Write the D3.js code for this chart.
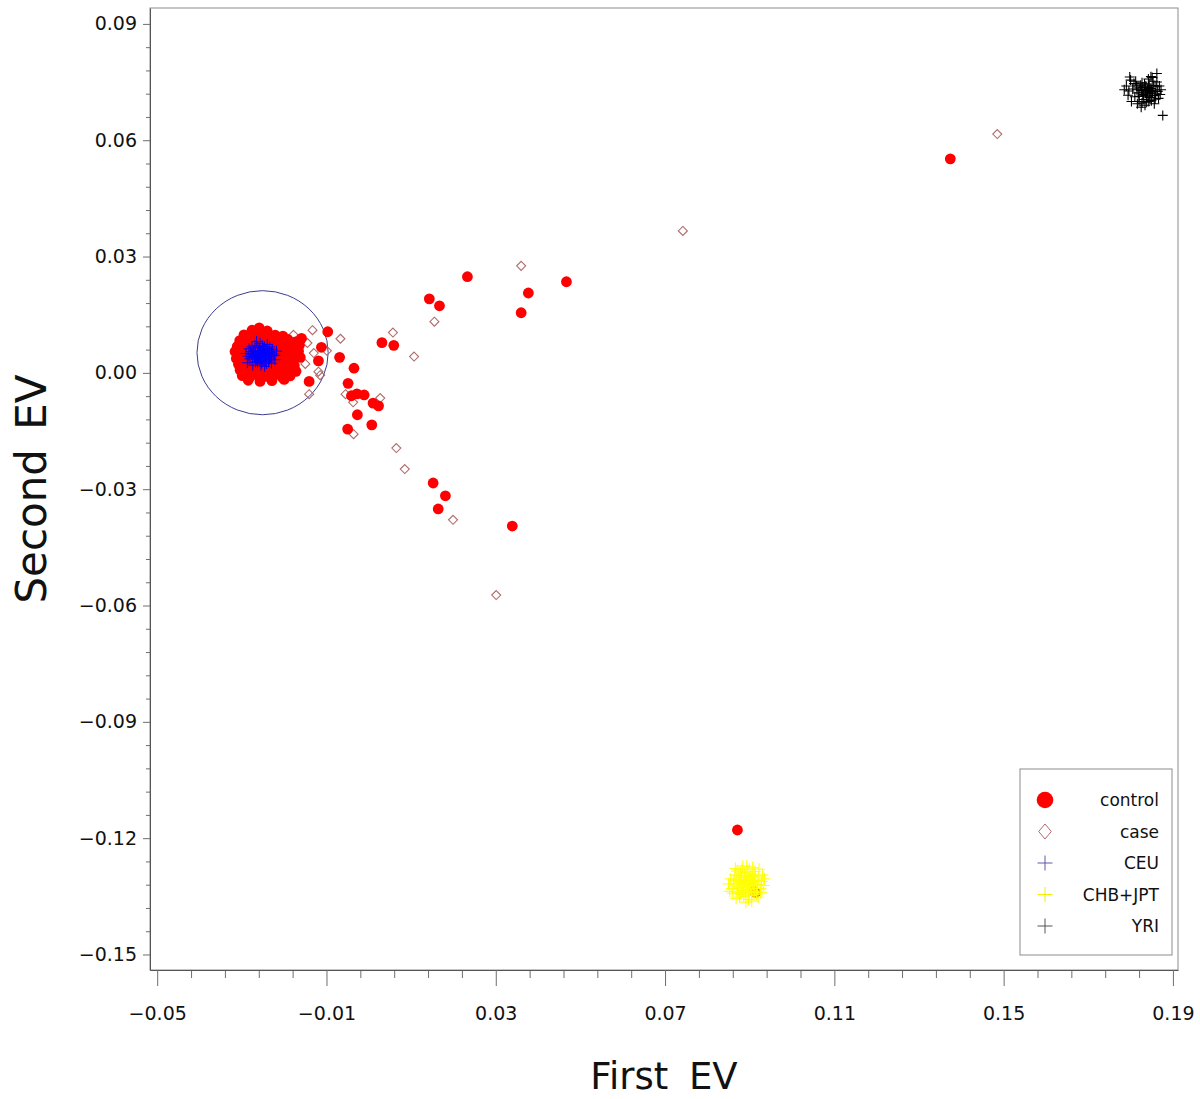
<!DOCTYPE html>
<html>
<head>
<meta charset="utf-8">
<script src="https://cdn.jsdelivr.net/npm/d3@7"></script>
<style>
  body { margin: 0; background: #fff; }
  svg text { font-family: "DejaVu Sans", sans-serif; fill: #111; }
</style>
</head>
<body>
<svg id="chart"></svg>
<script>
// axis ticks
const xTicks = [-0.05, -0.01, 0.03, 0.07, 0.11, 0.15, 0.19];
const yTicks = [-0.15, -0.12, -0.09, -0.06, -0.03, 0.00, 0.03, 0.06, 0.09];
const xDomain = [-0.0517, 0.1912];
const yDomain = [-0.154, 0.0941];

const legendLabels = ["control", "case", "CEU", "CHB+JPT", "YRI"];

// [first EV, second EV]
const controlPts = [
  // main cluster
  [-0.0276, 0.0110], [-0.0259, 0.0116], [-0.0240, 0.0108],
  [-0.0295, 0.0098], [-0.0277, 0.0103], [-0.0258, 0.0099], [-0.0239, 0.0102], [-0.0221, 0.0097], [-0.0203, 0.0095],
  [-0.0305, 0.0083], [-0.0286, 0.0087], [-0.0267, 0.0084], [-0.0248, 0.0088], [-0.0229, 0.0085], [-0.0210, 0.0082], [-0.0191, 0.0086], [-0.0173, 0.0080],
  [-0.0311, 0.0068], [-0.0292, 0.0072], [-0.0273, 0.0069], [-0.0255, 0.0071], [-0.0236, 0.0067], [-0.0217, 0.0073], [-0.0198, 0.0069], [-0.0179, 0.0066], [-0.0164, 0.0071],
  [-0.0316, 0.0055], [-0.0297, 0.0052], [-0.0278, 0.0056], [-0.0259, 0.0053], [-0.0240, 0.0057], [-0.0221, 0.0051], [-0.0202, 0.0055], [-0.0183, 0.0052], [-0.0166, 0.0056],
  [-0.0313, 0.0037], [-0.0294, 0.0041], [-0.0275, 0.0038], [-0.0257, 0.0040], [-0.0238, 0.0036], [-0.0219, 0.0042], [-0.0200, 0.0038], [-0.0181, 0.0035], [-0.0162, 0.0040],
  [-0.0308, 0.0022], [-0.0289, 0.0025], [-0.0270, 0.0021], [-0.0251, 0.0024], [-0.0233, 0.0020], [-0.0214, 0.0026], [-0.0195, 0.0022], [-0.0176, 0.0019],
  [-0.0304, 0.0007], [-0.0285, 0.0010], [-0.0266, 0.0006], [-0.0247, 0.0009], [-0.0228, 0.0005], [-0.0209, 0.0011], [-0.0190, 0.0007], [-0.0172, 0.0004],
  [-0.0299, -0.0007], [-0.0280, -0.0010], [-0.0261, -0.0006], [-0.0243, -0.0009], [-0.0224, -0.0005], [-0.0205, -0.0011], [-0.0186, -0.0008],
  [-0.0285, -0.0019], [-0.0257, -0.0022], [-0.0229, -0.0020], [-0.0200, -0.0017],
  // outside the cluster
  [-0.0159, 0.0089], [-0.0141, -0.0022], [-0.0119, 0.0031], [-0.0112, 0.0066], [-0.0097, 0.0106],
  [-0.0069, 0.0040], [-0.0035, 0.0012], [-0.0049, -0.0027], [-0.0041, -0.0059], [-0.0028, -0.0054],
  [-0.0011, -0.0057], [0.0010, -0.0078], [0.0023, -0.0085], [-0.0027, -0.0108], [0.0007, -0.0134],
  [-0.0050, -0.0145], [0.0031, 0.0078], [0.0059, 0.0071],
  [0.0143, 0.0191], [0.0167, 0.0173], [0.0233, 0.0248], [0.0360, 0.0155], [0.0377, 0.0206], [0.0467, 0.0235],
  [0.0152, -0.0284], [0.0181, -0.0317], [0.0164, -0.0351], [0.0339, -0.0395],
  [0.1374, 0.0552], [0.0871, -0.1179], [0.0913, -0.1340]
];

const casePts = [
  [-0.0194, 0.0008], [-0.0178, 0.0098], [-0.0150, 0.0023], [-0.0145, 0.0077], [-0.0141, -0.0055],
  [-0.0133, 0.0110], [-0.0130, 0.0051], [-0.0119, 0.0003], [-0.0115, -0.0006], [-0.0099, 0.0057],
  [-0.0067, 0.0088], [-0.0055, -0.0055], [-0.0037, -0.0076], [-0.0036, -0.0158], [0.0027, -0.0065],
  [0.0057, 0.0104], [0.0107, 0.0042], [0.0155, 0.0132], [0.0360, 0.0276], [0.0065, -0.0194],
  [0.0085, -0.0248], [0.0199, -0.0379], [0.0301, -0.0573], [0.0742, 0.0366], [0.1485, 0.0616],
  [0.0910, -0.1334]
];

const ceuPts = [
  [-0.0253, 0.0046], [-0.0248, 0.0050], [-0.0259, 0.0043], [-0.0245, 0.0041], [-0.0262, 0.0052],
  [-0.0250, 0.0037], [-0.0256, 0.0056], [-0.0241, 0.0048], [-0.0266, 0.0045], [-0.0251, 0.0061],
  [-0.0238, 0.0054], [-0.0270, 0.0039], [-0.0258, 0.0032], [-0.0244, 0.0030], [-0.0235, 0.0043],
  [-0.0272, 0.0057], [-0.0262, 0.0066], [-0.0247, 0.0068], [-0.0230, 0.0052], [-0.0277, 0.0048],
  [-0.0268, 0.0028], [-0.0253, 0.0024], [-0.0236, 0.0033], [-0.0228, 0.0061], [-0.0281, 0.0036],
  [-0.0283, 0.0062], [-0.0257, 0.0076], [-0.0240, 0.0073], [-0.0222, 0.0045], [-0.0274, 0.0020],
  [-0.0246, 0.0017], [-0.0230, 0.0025], [-0.0290, 0.0050], [-0.0265, 0.0081], [-0.0218, 0.0056],
  [-0.0287, 0.0026], [-0.0255, 0.0052], [-0.0249, 0.0044], [-0.0260, 0.0048], [-0.0243, 0.0058],
  [-0.0264, 0.0035], [-0.0252, 0.0040], [-0.0255, 0.0047], [-0.0250, 0.0053], [-0.0257, 0.0039],
  [-0.0247, 0.0046], [-0.0261, 0.0058], [-0.0244, 0.0036], [-0.0268, 0.0050], [-0.0239, 0.0063],
  [-0.0258, 0.0064], [-0.0233, 0.0038], [-0.0275, 0.0042], [-0.0250, 0.0030], [-0.0263, 0.0027],
  [-0.0242, 0.0024], [-0.0226, 0.0049], [-0.0279, 0.0055], [-0.0269, 0.0071], [-0.0251, 0.0070],
  [-0.0234, 0.0067], [-0.0285, 0.0043], [-0.0237, 0.0028], [-0.0255, 0.0020], [-0.0222, 0.0034],
  [-0.0276, 0.0067], [-0.0248, 0.0058], [-0.0264, 0.0042]
];

const chbJptPts = [
  [0.0892, -0.1313], [0.0887, -0.1308], [0.0898, -0.1318], [0.0884, -0.1320], [0.0901, -0.1305],
  [0.0893, -0.1325], [0.0880, -0.1302], [0.0906, -0.1315], [0.0889, -0.1296], [0.0875, -0.1314],
  [0.0897, -0.1332], [0.0910, -0.1326], [0.0883, -0.1335], [0.0903, -0.1293], [0.0870, -0.1324],
  [0.0914, -0.1309], [0.0895, -0.1287], [0.0878, -0.1290], [0.0868, -0.1307], [0.0890, -0.1342],
  [0.0908, -0.1338], [0.0918, -0.1320], [0.0873, -0.1340], [0.0920, -0.1300], [0.0863, -0.1318],
  [0.0899, -0.1280], [0.0882, -0.1280], [0.0912, -0.1286], [0.0865, -0.1295], [0.0886, -0.1350],
  [0.0904, -0.1348], [0.0925, -0.1330], [0.0858, -0.1330], [0.0870, -0.1285], [0.0928, -0.1312],
  [0.0893, -0.1272], [0.0916, -0.1345], [0.0876, -0.1352], [0.0855, -0.1305], [0.0930, -0.1295],
  [0.0897, -0.1358], [0.0860, -0.1342], [0.0922, -0.1280], [0.0885, -0.1318], [0.0894, -0.1300],
  [0.0901, -0.1322], [0.0880, -0.1328], [0.0906, -0.1300], [0.0888, -0.1289], [0.0911, -0.1318],
  [0.0873, -0.1297], [0.0933, -0.1322], [0.0850, -0.1318], [0.0891, -0.1365], [0.0889, -0.1311],
  [0.0896, -0.1309], [0.0884, -0.1327], [0.0902, -0.1330], [0.0878, -0.1310], [0.0909, -0.1308],
  [0.0890, -0.1300], [0.0899, -0.1340], [0.0871, -0.1331], [0.0915, -0.1334], [0.0913, -0.1296],
  [0.0879, -0.1345], [0.0926, -0.1340], [0.0862, -0.1310], [0.0920, -0.1352], [0.0905, -0.1362],
  [0.0884, -0.1272], [0.0907, -0.1276], [0.0853, -0.1337], [0.0935, -0.1305], [0.0866, -0.1278],
  [0.0868, -0.1355], [0.0917, -0.1337], [0.0912, -0.1342], [0.0918, -0.1330]
];

const yriPts = [
  [0.1839, 0.0725], [0.1834, 0.0731], [0.1845, 0.0720], [0.1830, 0.0718], [0.1848, 0.0733],
  [0.1841, 0.0712], [0.1826, 0.0728], [0.1852, 0.0724], [0.1836, 0.0740], [0.1822, 0.0735],
  [0.1844, 0.0745], [0.1857, 0.0715], [0.1831, 0.0705], [0.1818, 0.0722], [0.1849, 0.0702],
  [0.1860, 0.0738], [0.1827, 0.0748], [0.1814, 0.0740], [0.1838, 0.0698], [0.1853, 0.0752],
  [0.1805, 0.0732], [0.1864, 0.0726], [0.1820, 0.0700], [0.1842, 0.0758], [0.1866, 0.0708],
  [0.1796, 0.0727], [0.1810, 0.0712], [0.1834, 0.0690], [0.1856, 0.0694], [0.1790, 0.0740],
  [0.1812, 0.0752], [0.1862, 0.0750], [0.1802, 0.0700], [0.1825, 0.0685], [0.1870, 0.0718],
  [0.1848, 0.0764], [0.1876, 0.0664], [0.1785, 0.0730], [0.1800, 0.0755], [0.1829, 0.0716],
  [0.1846, 0.0729], [0.1835, 0.0722], [0.1842, 0.0736], [0.1824, 0.0742], [0.1858, 0.0706],
  [0.1816, 0.0694], [0.1862, 0.0772], [0.1798, 0.0763], [0.1840, 0.0730], [0.1837, 0.0716],
  [0.1850, 0.0727], [0.1829, 0.0737], [0.1845, 0.0710], [0.1833, 0.0745], [0.1855, 0.0741],
  [0.1820, 0.0713], [0.1843, 0.0700], [0.1859, 0.0720], [0.1815, 0.0730], [0.1827, 0.0696],
  [0.1851, 0.0762], [0.1808, 0.0746], [0.1868, 0.0740], [0.1794, 0.0716], [0.1872, 0.0730]
];

// centre x, centre y, radius x, radius y (data units)
const refEllipse = [-0.0251, 0.0052, 0.0155, 0.0160];

class PcaScatter {

    constructor(_config) {
        this.config = {
            parentElement: _config.parentElement,
            containerWidth: _config.containerWidth || 1200,
            containerHeight: _config.containerHeight || 1099,
            margin: { top: 8, right: 22, bottom: 129, left: 150 }
        }
        this.initVis();
    }

    initVis() {
        let vis = this;

        vis.width = vis.config.containerWidth - vis.config.margin.left - vis.config.margin.right;
        vis.height = vis.config.containerHeight - vis.config.margin.top - vis.config.margin.bottom;

        vis.svg = d3.select(vis.config.parentElement)
            .attr('width', vis.config.containerWidth)
            .attr('height', vis.config.containerHeight);

        vis.chart = vis.svg.append('g')
            .attr('transform', `translate(${vis.config.margin.left},${vis.config.margin.top})`);

        vis.xScale = d3.scaleLinear().domain(xDomain).range([0, vis.width]);
        vis.yScale = d3.scaleLinear().domain(yDomain).range([vis.height, 0]);

        // minor ticks: 4 between each pair of labelled ticks
        const minors = ticks => ticks.slice(0, -1)
            .flatMap((t, i) => [1, 2, 3, 4].map(k => t + k * (ticks[i + 1] - t) / 5));

        vis.chart.append('rect')
            .attr('width', vis.width)
            .attr('height', vis.height)
            .attr('fill', 'none')
            .attr('stroke', '#8c8c8c');

        // x axis
        vis.chart.append('g')
            .attr('transform', `translate(0,${vis.height})`)
            .call(d3.axisBottom(vis.xScale).tickValues(minors(xTicks)).tickSize(8).tickFormat(''))
            .call(g => g.select('.domain').remove());
        vis.xAxisG = vis.chart.append('g')
            .attr('class', 'axis x-axis')
            .attr('transform', `translate(0,${vis.height})`)
            .call(d3.axisBottom(vis.xScale).tickValues(xTicks).tickSize(16).tickSizeOuter(0)
                .tickPadding(21).tickFormat(d3.format('.2f')));

        // y axis
        vis.chart.append('g')
            .call(d3.axisLeft(vis.yScale).tickValues(minors(yTicks)).tickSize(4).tickFormat(''))
            .call(g => g.select('.domain').remove());
        vis.yAxisG = vis.chart.append('g')
            .attr('class', 'axis y-axis')
            .call(d3.axisLeft(vis.yScale).tickValues(yTicks).tickSize(7).tickSizeOuter(0)
                .tickPadding(6).tickFormat(d3.format('.2f')));

        vis.chart.selectAll('.tick line').attr('stroke', '#6e6e6e');
        vis.chart.selectAll('.domain').attr('stroke', '#555');
        vis.chart.selectAll('.axis text')
            .attr('font-family', '"DejaVu Sans", sans-serif')
            .attr('font-size', 19)
            .attr('fill', '#111');

        // axis titles
        vis.svg.append('text')
            .attr('x', vis.config.margin.left + vis.width / 2)
            .attr('y', 1089)
            .attr('text-anchor', 'middle')
            .attr('font-size', 37)
            .attr('word-spacing', 9)
            .text('First EV');

        vis.svg.append('text')
            .attr('transform', `translate(46,${vis.config.margin.top + vis.height / 2}) rotate(-90)`)
            .attr('text-anchor', 'middle')
            .attr('font-size', 42)
            .attr('word-spacing', 6)
            .text('Second EV');

        vis.renderVis();
    }

    renderVis() {
        let vis = this;
        const x = vis.xScale, y = vis.yScale;
        const cross = h => `M${-h},0H${h}M0,${-h}V${h}`;
        const diamond = (w, h) => `M0,${-h}L${w},0L0,${h}L${-w},0Z`;

        // reference ellipse round the CEU samples
        vis.chart.append('ellipse')
            .attr('cx', x(refEllipse[0]))
            .attr('cy', y(refEllipse[1]))
            .attr('rx', x(refEllipse[0] + refEllipse[2]) - x(refEllipse[0]))
            .attr('ry', y(refEllipse[1] - refEllipse[3]) - y(refEllipse[1]))
            .attr('fill', 'none')
            .attr('stroke', '#3c3c90')
            .attr('stroke-width', 1);

        vis.chart.append('g').selectAll('path')
            .data(casePts)
            .join('path')
                .attr('transform', d => `translate(${x(d[0])},${y(d[1])})`)
                .attr('d', diamond(4.5, 4.5))
                .attr('fill', 'none')
                .attr('stroke', '#b06a6a')
                .attr('stroke-width', 1.1);

        vis.chart.append('g').selectAll('circle')
            .data(controlPts)
            .join('circle')
                .attr('cx', d => x(d[0]))
                .attr('cy', d => y(d[1]))
                .attr('r', 5.4)
                .attr('fill', '#ff0000');

        const crossGroup = (pts, color, h, sw) => vis.chart.append('g').selectAll('path')
            .data(pts)
            .join('path')
                .attr('transform', d => `translate(${x(d[0])},${y(d[1])})`)
                .attr('d', cross(h))
                .attr('fill', 'none')
                .attr('stroke', color)
                .attr('stroke-width', sw);

        crossGroup(ceuPts, '#0000ff', 5.5, 1);
        crossGroup(chbJptPts, '#ffff00', 6, 1);
        crossGroup(yriPts, '#000000', 5, 1.1);

        // legend
        const legend = vis.svg.append('g');
        legend.append('rect')
            .attr('x', 1020).attr('y', 769)
            .attr('width', 152).attr('height', 186)
            .attr('fill', '#fff')
            .attr('stroke', '#8c8c8c');

        const item = legend.selectAll('g.item')
            .data(legendLabels)
            .join('g')
                .attr('class', 'item')
                .attr('transform', (d, i) => `translate(1045,${800 + i * 31.5})`);

        item.filter((d, i) => i === 0).append('circle')
            .attr('r', 8.3).attr('fill', '#ff0000');
        item.filter((d, i) => i === 1).append('path')
            .attr('d', diamond(6.3, 7.5)).attr('fill', 'none').attr('stroke', '#b06a6a');
        item.filter((d, i) => i > 1).append('path')
            .attr('d', cross(7.5))
            .attr('fill', 'none')
            .attr('stroke', (d, i) => ['#5a5aaa', '#f0f000', '#555'][i]);

        item.append('text')
            .attr('x', 114)
            .attr('dy', '0.36em')
            .attr('text-anchor', 'end')
            .attr('font-size', 17)
            .text(d => d);
    }
}

new PcaScatter({ parentElement: '#chart' });
</script>
</body>
</html>
